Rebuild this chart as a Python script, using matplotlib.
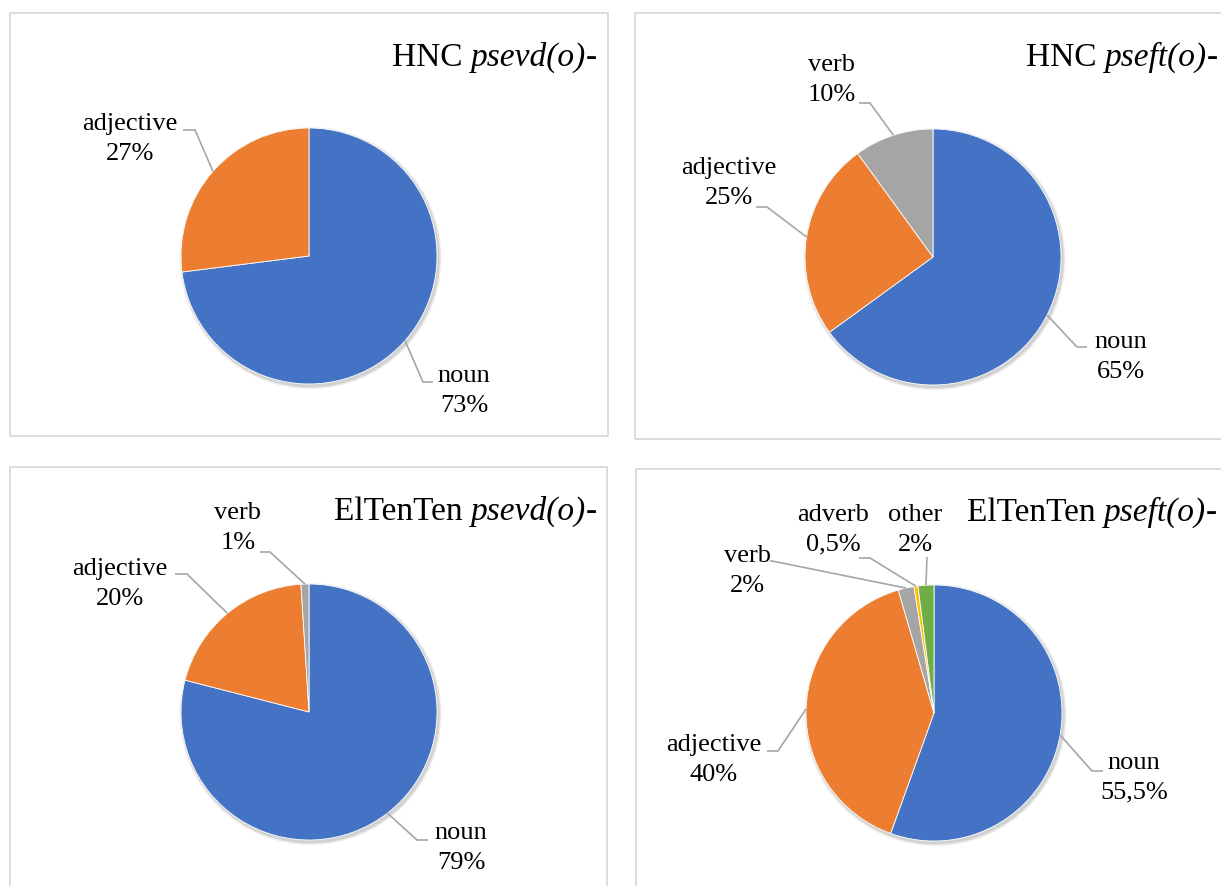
import numpy as np
import matplotlib
matplotlib.use("Agg")
import matplotlib.pyplot as plt
from matplotlib.patches import Rectangle, Circle

plt.rcParams['font.family'] = ['Liberation Serif', 'DejaVu Serif']

# data
hnc_psevd_labels = ['noun', 'adjective']
hnc_psevd_values = [73, 27]
hnc_psevd_text = ['73%', '27%']

hnc_pseft_labels = ['noun', 'adjective', 'verb']
hnc_pseft_values = [65, 25, 10]
hnc_pseft_text = ['65%', '25%', '10%']

elt_psevd_labels = ['noun', 'adjective', 'verb']
elt_psevd_values = [79, 20, 1]
elt_psevd_text = ['79%', '20%', '1%']

elt_pseft_labels = ['noun', 'adjective', 'verb', 'adverb', 'other']
elt_pseft_values = [55.5, 40, 2, 0.5, 2]
elt_pseft_text = ['55,5%', '40%', '2%', '0,5%', '2%']

# titles: (roman part, italic part, roman tail)
titles = [('HNC ', 'psevd(o)', '-'), ('HNC ', 'pseft(o)', '-'),
          ('ElTenTen ', 'psevd(o)', '-'), ('ElTenTen ', 'pseft(o)', '-')]

colors = ['#4472C4', '#ED7D31', '#A5A5A5', '#FFC000', '#70AD47']

W, H = 1221, 886


def Y(y):
    # pixel row (from top) -> data y
    return H - y


fig = plt.figure(figsize=(W / 100, H / 100), dpi=100)
ax = fig.add_axes([0, 0, 1, 1])

# panel frames
frames = [(10, 13, 608, 436), (635, 13, 1230, 439), (10, 467, 607, 895), (636, 469, 1230, 895)]
for x0, y0, x1, y1 in frames:
    ax.add_patch(Rectangle((x0, Y(y1)), x1 - x0, y1 - y0, fill=False,
                           edgecolor='#D9D9D9', linewidth=1.3))

# layout of each panel: pie centre, title anchor, label centres, label attach + elbow
panels = [
    dict(vals=hnc_psevd_values, labs=hnc_psevd_labels, txt=hnc_psevd_text,
         c=(309, 256), title=(597, 66),
         pos=[(464, 391), (130, 139)],
         att=[(433, 382), (183, 130)], elb=[(423, 382), (195, 130)]),
    dict(vals=hnc_pseft_values, labs=hnc_pseft_labels, txt=hnc_pseft_text,
         c=(933, 257), title=(1218, 66),
         pos=[(1121, 357), (729, 183), (832, 80)],
         att=[(1087, 347), (756, 207), (859, 103)],
         elb=[(1077, 347), (767, 207), (870, 103)]),
    dict(vals=elt_psevd_values, labs=elt_psevd_labels, txt=elt_psevd_text,
         c=(309, 712), title=(597, 520),
         pos=[(461, 848), (120, 584), (238, 528)],
         att=[(428, 840), (175, 574), (260, 552)],
         elb=[(417, 840), (187, 574), (270, 552)]),
    dict(vals=elt_pseft_values, labs=elt_pseft_labels, txt=elt_pseft_text,
         c=(934, 713), title=(1217, 521),
         pos=[(1134, 778), (714, 760), (747, 571), (833, 530), (915, 530)],
         att=[(1103, 771), (767, 751), (770, 561), (859, 558), (927, 557)],
         elb=[(1092, 771), (778, 751), (772, 561), (870, 558), (927, 557)]),
]

R = 128
for i, p in enumerate(panels):
    cx, cy = p['c'][0], Y(p['c'][1])
    # soft shadow
    for k, a in enumerate([0.06, 0.06, 0.07]):
        ax.add_patch(Circle((cx + 1.5, cy - 2), R + 3 - k, color='k', alpha=a,
                            linewidth=0, zorder=1))
    wedges, _ = ax.pie(p['vals'], center=(cx, cy), radius=R, startangle=90,
                       counterclock=False, colors=colors[:len(p['vals'])],
                       wedgeprops=dict(edgecolor='white', linewidth=0.6))
    for w in wedges:
        w.set_zorder(2)
    for j, w in enumerate(wedges):
        mid = np.deg2rad((w.theta1 + w.theta2) / 2)
        ex, ey = cx + R * np.cos(mid), cy + R * np.sin(mid)
        (axx, axy), (elx, ely) = p['att'][j], p['elb'][j]
        ax.plot([axx, elx, ex], [Y(axy), Y(ely), ey], color='#A6A6A6',
                linewidth=1.2, zorder=3, solid_capstyle='butt')
        lx, ly = p['pos'][j]
        ax.text(lx, Y(ly), p['labs'][j] + '\n' + p['txt'][j], ha='center',
                va='center', fontsize=19, linespacing=1.45, zorder=4)

ax.set_xlim(0, W)
ax.set_ylim(0, H)
ax.set_aspect('auto')
ax.axis('off')

# titles built right to left so the italic part keeps its own glyphs
# (axes spans the whole figure, so display pixels == data units here)
renderer = fig.canvas.get_renderer()
for i, p in enumerate(panels):
    tx, ty = p['title']
    x = tx
    for part, style in zip(reversed(titles[i]), ['normal', 'italic', 'normal']):
        t = ax.text(x, Y(ty), part, ha='right', va='baseline', fontsize=24,
                    style=style, zorder=4)
        x = ax.transData.inverted().transform(
            (t.get_window_extent(renderer).x0, 0))[0]

fig.savefig('out.png', dpi=100)
